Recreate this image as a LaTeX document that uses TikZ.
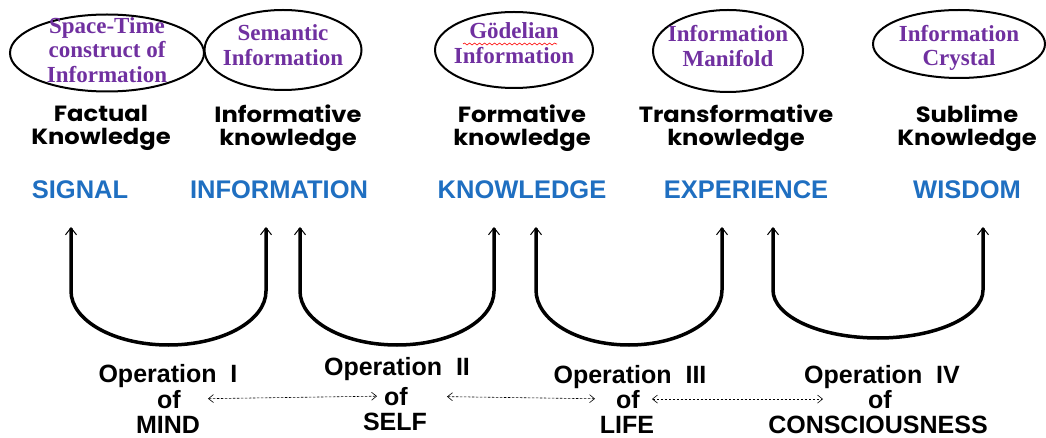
\documentclass[tikz,border=0pt]{standalone}
\usepackage{fontspec}
\setmainfont{Liberation Serif}
\newfontfamily\handfont[FakeStretch=1.1]{Poppins}
\newfontfamily\boldsans{Liberation Sans}
\usetikzlibrary{positioning,arrows.meta,shapes.geometric,decorations.pathmorphing}
\definecolor{ringpurple}{RGB}{112,48,160}
\definecolor{stageblue}{RGB}{31,111,193}
\tikzset{
    ring/.style = {
        draw,
        shape=ellipse,
        line width=2pt,
        inner sep=0pt
    },
    ringtext/.style = {
        align=center,
        inner sep=0pt,
        text=ringpurple,
        font=\fontsize{23}{24.5}\selectfont\bfseries
    },
    know/.style = {
        align=center,
        inner sep=0pt,
        font=\handfont\fontsize{22}{23}\selectfont\bfseries
    },
    stage/.style = {
        anchor=base,
        inner sep=0pt,
        text=stageblue,
        font=\boldsans\fontsize{25.5}{27}\selectfont\bfseries
    },
    oper/.style = {
        anchor=base,
        inner sep=0pt,
        font=\boldsans\fontsize{25}{26}\selectfont\bfseries
    },
    uloop/.style = {
        line width=3.5pt,
        >={Straight Barb[length=7pt,width=11pt,line width=1pt]},
        <->
    },
    link/.style = {
        line width=0.6pt,
        dash pattern=on 2.5pt off 1.5pt,
        >={Straight Barb[length=5pt,width=8pt]},
        <->
    },
    squiggle/.style = {
        red,
        line width=0.6pt,
        decorate,
        decoration={snake,segment length=5pt,amplitude=1pt}
    }
}

\begin{document}
\begin{tikzpicture}[x=1pt,y=-1pt]
    \useasboundingbox (0,0) rectangle (1046,438);

    % information forms
    \node[ring, minimum width=194pt, minimum height=77pt] (ring1) at (107,53) {};
    \node[ring, minimum width=157pt, minimum height=80pt] (ring2) at (283,50) {};
    \node[ring, minimum width=158pt, minimum height=76pt] (ring3) at (514,50) {};
    \node[ring, minimum width=150pt, minimum height=82pt] (ring4) at (728,51) {};
    \node[ring, minimum width=172pt, minimum height=68pt] (ring5) at (959,44) {};

    \node[ringtext] (spacetime) at (107,50) {Space-Time\\construct of\\Information};
    \node[ringtext] (semantic) at (283,45) {Semantic\\Information};
    \node[ringtext] (goedel) at (514,43) {Gödelian\\Information};
    \node[ringtext] (manifold) at (728,46) {Information\\Manifold};
    \node[ringtext] (crystal) at (959,48) {Information\\Crystal};
    \draw[squiggle] (463,44) -- (557,44);

    % kinds of knowledge
    \node[know] (factual) at (101,128) {Factual\\Knowledge};
    \node[know] (informative) at (288,128) {Informative\\knowledge};
    \node[know] (formative) at (522,128) {Formative\\knowledge};
    \node[know] (transform) at (736,128) {Transformative\\knowledge};
    \node[know] (sublime) at (967,128) {Sublime\\Knowledge};

    % stages
    \node[stage] (signal) at (80,199) {SIGNAL};
    \node[stage] (information) at (279,199) {INFORMATION};
    \node[stage] (knowledge) at (522,199) {KNOWLEDGE};
    \node[stage] (experience) at (746,199) {EXPERIENCE};
    \node[stage] (wisdom) at (967,199) {WISDOM};

    % operations
    \coordinate (u1l) at (71,227);
    \coordinate (u1r) at (266,227);
    \coordinate (u2l) at (300,227);
    \coordinate (u2r) at (494,227);
    \coordinate (u3l) at (536,227);
    \coordinate (u3r) at (722,227);
    \coordinate (u4l) at (773,227);
    \coordinate (u4r) at (983,227);
    \draw[uloop] (u1l) -- ++(0,64) arc[start angle=180, end angle=360, x radius=97.5pt, y radius=54pt] -- (u1r);
    \draw[uloop] (u2l) -- ++(0,64) arc[start angle=180, end angle=360, x radius=97pt, y radius=54pt] -- (u2r);
    \draw[uloop] (u3l) -- ++(0,63) arc[start angle=180, end angle=360, x radius=93pt, y radius=55pt] -- (u3r);
    \draw[uloop] (u4l) -- ++(0,63) arc[start angle=180, end angle=360, x radius=105pt, y radius=48pt] -- (u4r);

    \node[oper] (opmind) at (168,382) {Operation~~I};
    \node[oper] (ofmind) at (169,408) {of};
    \node[oper] (mind) at (168,433) {MIND};
    \node[oper] (opself) at (397,375) {Operation~~II};
    \node[oper] (ofself) at (396,405) {of};
    \node[oper] (self) at (395,430) {SELF};
    \node[oper] (oplife) at (630,383) {Operation~~III};
    \node[oper] (oflife) at (628,408) {of};
    \node[oper] (life) at (627,433) {LIFE};
    \node[oper] (opcons) at (882,383) {Operation~~IV};
    \node[oper] (ofcons) at (880,408) {of};
    \node[oper] (cons) at (878,433) {CONSCIOUSNESS};

    \draw[link, shorten <=27pt, shorten >=7pt] (ofmind.east) -- (ofself.west);
    \draw[link, shorten <=39pt, shorten >=21pt] (ofself.east) -- (oflife.west);
    \draw[link, shorten <=12pt, shorten >=45pt] (oflife.east) -- (ofcons.west);
\end{tikzpicture}
\end{document}
